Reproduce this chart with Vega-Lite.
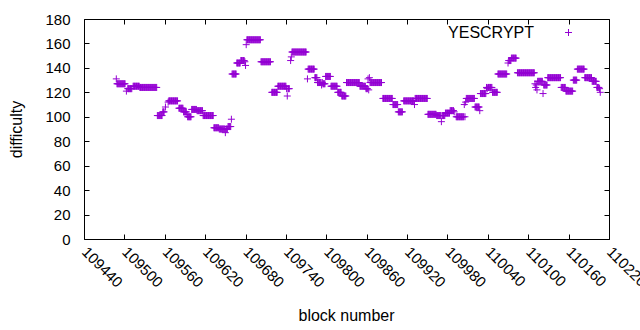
{
"$schema": "https://vega.github.io/schema/vega-lite/v6.json",
"width": 525, "height": 220,
"autosize": "none",
"padding": {"left": 84, "top": 19, "right": 31, "bottom": 91},
"background": "white",
"config": {
  "view": {"stroke": "black", "strokeWidth": 1},
  "font": "Liberation Sans",
  "axis": {"grid": false, "domain": false, "tickColor": "black", "labelColor": "black", "titleColor": "black", "labelFontSize": 15, "titleFontSize": 16, "titleFontWeight": "normal", "tickSize": -5, "labelFlush": false, "labelOverlap": false, "labelBound": false}
},
"datasets": {"pts": [
{"block":109488,"diff":131},
{"block":109489,"diff":127},{"block":109490,"diff":127},{"block":109491,"diff":127},{"block":109492,"diff":127},{"block":109493,"diff":127},{"block":109494,"diff":127},{"block":109495,"diff":127},{"block":109496,"diff":127},{"block":109497,"diff":127},{"block":109498,"diff":127},{"block":109499,"diff":127},{"block":109500,"diff":127},{"block":109501,"diff":127},
{"block":109503,"diff":121},
{"block":109505,"diff":123},{"block":109506,"diff":123},{"block":109507,"diff":123},{"block":109508,"diff":123},{"block":109509,"diff":123},{"block":109510,"diff":123},{"block":109511,"diff":123},
{"block":109513,"diff":125},{"block":109514,"diff":125},{"block":109515,"diff":125},{"block":109516,"diff":125},{"block":109517,"diff":125},{"block":109518,"diff":125},{"block":109519,"diff":125},{"block":109520,"diff":125},{"block":109521,"diff":125},{"block":109522,"diff":125},
{"block":109523,"diff":124},{"block":109524,"diff":124},{"block":109525,"diff":124},{"block":109526,"diff":124},{"block":109527,"diff":124},{"block":109528,"diff":124},{"block":109529,"diff":124},{"block":109530,"diff":124},{"block":109531,"diff":124},{"block":109532,"diff":124},{"block":109533,"diff":124},{"block":109534,"diff":124},{"block":109535,"diff":124},{"block":109536,"diff":124},{"block":109537,"diff":124},{"block":109538,"diff":124},{"block":109539,"diff":124},{"block":109540,"diff":124},{"block":109541,"diff":124},{"block":109542,"diff":124},{"block":109543,"diff":124},{"block":109544,"diff":124},{"block":109545,"diff":124},{"block":109546,"diff":124},{"block":109547,"diff":124},{"block":109548,"diff":124},
{"block":109549,"diff":101},{"block":109550,"diff":101},{"block":109551,"diff":101},{"block":109552,"diff":101},{"block":109553,"diff":101},{"block":109554,"diff":101},{"block":109555,"diff":101},{"block":109556,"diff":101},
{"block":109557,"diff":104},{"block":109558,"diff":104},{"block":109559,"diff":104},
{"block":109561,"diff":108},
{"block":109565,"diff":112},
{"block":109566,"diff":113},{"block":109567,"diff":113},{"block":109568,"diff":113},{"block":109569,"diff":113},{"block":109570,"diff":113},{"block":109571,"diff":113},{"block":109572,"diff":113},{"block":109573,"diff":113},{"block":109574,"diff":113},{"block":109575,"diff":113},{"block":109576,"diff":113},{"block":109577,"diff":113},{"block":109578,"diff":113},{"block":109579,"diff":113},
{"block":109581,"diff":107},{"block":109582,"diff":107},{"block":109583,"diff":107},{"block":109584,"diff":107},{"block":109585,"diff":107},{"block":109586,"diff":107},{"block":109587,"diff":107},
{"block":109588,"diff":104},{"block":109589,"diff":104},{"block":109590,"diff":104},{"block":109591,"diff":104},{"block":109592,"diff":104},
{"block":109593,"diff":102},
{"block":109594,"diff":100},{"block":109595,"diff":100},{"block":109596,"diff":100},{"block":109597,"diff":100},{"block":109598,"diff":100},{"block":109599,"diff":100},
{"block":109600,"diff":106},{"block":109601,"diff":106},{"block":109602,"diff":106},{"block":109603,"diff":106},{"block":109604,"diff":106},{"block":109605,"diff":106},{"block":109606,"diff":106},{"block":109607,"diff":106},
{"block":109608,"diff":105},{"block":109609,"diff":105},{"block":109610,"diff":105},{"block":109611,"diff":105},{"block":109612,"diff":105},{"block":109613,"diff":105},{"block":109614,"diff":105},{"block":109615,"diff":105},{"block":109616,"diff":105},
{"block":109617,"diff":101},{"block":109618,"diff":101},{"block":109619,"diff":101},{"block":109620,"diff":101},{"block":109621,"diff":101},{"block":109622,"diff":101},{"block":109623,"diff":101},{"block":109624,"diff":101},{"block":109625,"diff":101},{"block":109626,"diff":101},{"block":109627,"diff":101},{"block":109628,"diff":101},{"block":109629,"diff":101},{"block":109630,"diff":101},{"block":109631,"diff":101},{"block":109632,"diff":101},
{"block":109633,"diff":91},{"block":109634,"diff":91},{"block":109635,"diff":91},{"block":109636,"diff":91},{"block":109637,"diff":91},{"block":109638,"diff":91},{"block":109639,"diff":91},{"block":109640,"diff":91},
{"block":109641,"diff":90},{"block":109642,"diff":90},{"block":109643,"diff":90},{"block":109644,"diff":90},{"block":109645,"diff":90},{"block":109646,"diff":90},{"block":109647,"diff":90},{"block":109648,"diff":90},{"block":109649,"diff":90},
{"block":109650,"diff":87},
{"block":109651,"diff":90},{"block":109652,"diff":90},{"block":109653,"diff":90},
{"block":109654,"diff":92},{"block":109655,"diff":92},{"block":109656,"diff":92},{"block":109657,"diff":92},{"block":109658,"diff":92},
{"block":109659,"diff":98},
{"block":109660,"diff":135},{"block":109661,"diff":135},{"block":109662,"diff":135},{"block":109663,"diff":135},{"block":109664,"diff":135},{"block":109665,"diff":135},{"block":109666,"diff":135},
{"block":109667,"diff":144},{"block":109668,"diff":144},{"block":109669,"diff":144},{"block":109670,"diff":144},{"block":109671,"diff":144},{"block":109672,"diff":144},
{"block":109673,"diff":146},{"block":109674,"diff":146},{"block":109675,"diff":146},{"block":109676,"diff":146},{"block":109677,"diff":146},{"block":109678,"diff":146},
{"block":109679,"diff":145},
{"block":109680,"diff":142},
{"block":109681,"diff":159},
{"block":109682,"diff":163},{"block":109683,"diff":163},{"block":109684,"diff":163},{"block":109685,"diff":163},{"block":109686,"diff":163},{"block":109687,"diff":163},{"block":109688,"diff":163},{"block":109689,"diff":163},{"block":109690,"diff":163},{"block":109691,"diff":163},{"block":109692,"diff":163},{"block":109693,"diff":163},{"block":109694,"diff":163},{"block":109695,"diff":163},{"block":109696,"diff":163},{"block":109697,"diff":163},{"block":109698,"diff":163},{"block":109699,"diff":163},{"block":109700,"diff":163},{"block":109701,"diff":163},{"block":109702,"diff":163},
{"block":109703,"diff":145},{"block":109704,"diff":145},{"block":109705,"diff":145},{"block":109706,"diff":145},{"block":109707,"diff":145},{"block":109708,"diff":145},{"block":109709,"diff":145},{"block":109710,"diff":145},{"block":109711,"diff":145},{"block":109712,"diff":145},{"block":109713,"diff":145},{"block":109714,"diff":145},{"block":109715,"diff":145},{"block":109716,"diff":145},{"block":109717,"diff":145},
{"block":109719,"diff":120},{"block":109720,"diff":120},{"block":109721,"diff":120},{"block":109722,"diff":120},{"block":109723,"diff":120},{"block":109724,"diff":120},{"block":109725,"diff":120},{"block":109726,"diff":120},{"block":109727,"diff":120},
{"block":109728,"diff":125},{"block":109729,"diff":125},{"block":109730,"diff":125},{"block":109731,"diff":125},{"block":109732,"diff":125},{"block":109733,"diff":125},{"block":109734,"diff":125},{"block":109735,"diff":125},{"block":109736,"diff":125},{"block":109737,"diff":125},{"block":109738,"diff":125},{"block":109739,"diff":125},{"block":109740,"diff":125},
{"block":109741,"diff":123},{"block":109742,"diff":117},{"block":109743,"diff":123},{"block":109744,"diff":123},{"block":109745,"diff":123},
{"block":109747,"diff":146},{"block":109748,"diff":149},
{"block":109749,"diff":153},{"block":109750,"diff":153},{"block":109751,"diff":153},{"block":109752,"diff":153},{"block":109753,"diff":153},{"block":109754,"diff":153},{"block":109755,"diff":153},{"block":109756,"diff":153},{"block":109757,"diff":153},{"block":109758,"diff":153},{"block":109759,"diff":153},{"block":109760,"diff":153},{"block":109761,"diff":153},{"block":109762,"diff":153},{"block":109763,"diff":153},{"block":109764,"diff":153},{"block":109765,"diff":153},{"block":109766,"diff":153},{"block":109767,"diff":153},{"block":109768,"diff":153},{"block":109769,"diff":153},{"block":109770,"diff":153},
{"block":109772,"diff":131},
{"block":109773,"diff":139},{"block":109774,"diff":139},{"block":109775,"diff":139},{"block":109776,"diff":139},{"block":109777,"diff":139},{"block":109778,"diff":139},{"block":109779,"diff":139},{"block":109780,"diff":139},{"block":109781,"diff":139},{"block":109782,"diff":139},
{"block":109783,"diff":132},{"block":109784,"diff":132},{"block":109785,"diff":132},{"block":109786,"diff":132},
{"block":109787,"diff":128},{"block":109788,"diff":128},{"block":109789,"diff":128},{"block":109790,"diff":128},{"block":109791,"diff":128},{"block":109792,"diff":128},
{"block":109793,"diff":126},{"block":109794,"diff":128},
{"block":109795,"diff":127},{"block":109796,"diff":127},{"block":109797,"diff":127},{"block":109798,"diff":127},
{"block":109799,"diff":133},{"block":109800,"diff":133},{"block":109801,"diff":133},{"block":109802,"diff":133},{"block":109803,"diff":133},{"block":109804,"diff":133},{"block":109805,"diff":133},{"block":109806,"diff":133},
{"block":109807,"diff":125},{"block":109808,"diff":125},{"block":109809,"diff":125},{"block":109810,"diff":125},{"block":109811,"diff":125},{"block":109812,"diff":125},{"block":109813,"diff":125},{"block":109814,"diff":125},{"block":109815,"diff":125},{"block":109816,"diff":125},
{"block":109817,"diff":120},{"block":109818,"diff":120},{"block":109819,"diff":120},{"block":109820,"diff":120},{"block":109821,"diff":120},{"block":109822,"diff":120},
{"block":109823,"diff":117},{"block":109824,"diff":117},{"block":109825,"diff":117},{"block":109826,"diff":117},{"block":109827,"diff":117},{"block":109828,"diff":117},{"block":109829,"diff":117},
{"block":109830,"diff":128},{"block":109831,"diff":128},{"block":109832,"diff":128},{"block":109833,"diff":128},{"block":109834,"diff":128},{"block":109835,"diff":128},{"block":109836,"diff":128},{"block":109837,"diff":128},{"block":109838,"diff":128},{"block":109839,"diff":128},{"block":109840,"diff":128},{"block":109841,"diff":128},{"block":109842,"diff":128},{"block":109843,"diff":128},{"block":109844,"diff":128},{"block":109845,"diff":128},{"block":109846,"diff":128},{"block":109847,"diff":128},{"block":109848,"diff":128},{"block":109849,"diff":128},
{"block":109850,"diff":125},{"block":109851,"diff":125},{"block":109852,"diff":125},{"block":109853,"diff":125},{"block":109854,"diff":125},{"block":109855,"diff":125},{"block":109856,"diff":125},{"block":109857,"diff":125},{"block":109858,"diff":125},
{"block":109859,"diff":123},{"block":109860,"diff":123},{"block":109861,"diff":123},
{"block":109862,"diff":131},{"block":109863,"diff":122},{"block":109864,"diff":132},
{"block":109865,"diff":128},{"block":109866,"diff":128},{"block":109867,"diff":128},{"block":109868,"diff":128},{"block":109869,"diff":128},{"block":109870,"diff":128},{"block":109871,"diff":128},{"block":109872,"diff":128},{"block":109873,"diff":128},{"block":109874,"diff":128},{"block":109875,"diff":128},{"block":109876,"diff":128},{"block":109877,"diff":128},{"block":109878,"diff":128},{"block":109879,"diff":128},{"block":109880,"diff":128},{"block":109881,"diff":128},{"block":109882,"diff":128},
{"block":109884,"diff":115},{"block":109885,"diff":115},{"block":109886,"diff":115},{"block":109887,"diff":115},{"block":109888,"diff":115},{"block":109889,"diff":115},{"block":109890,"diff":115},{"block":109891,"diff":115},{"block":109892,"diff":115},{"block":109893,"diff":115},{"block":109894,"diff":115},{"block":109895,"diff":115},{"block":109896,"diff":115},{"block":109897,"diff":115},{"block":109898,"diff":115},
{"block":109899,"diff":110},{"block":109900,"diff":110},{"block":109901,"diff":110},{"block":109902,"diff":110},{"block":109903,"diff":110},{"block":109904,"diff":110},{"block":109905,"diff":110},{"block":109906,"diff":110},
{"block":109907,"diff":104},{"block":109908,"diff":104},{"block":109909,"diff":104},{"block":109910,"diff":104},{"block":109911,"diff":104},{"block":109912,"diff":104},{"block":109913,"diff":104},
{"block":109915,"diff":113},{"block":109916,"diff":113},{"block":109917,"diff":113},{"block":109918,"diff":113},{"block":109919,"diff":113},{"block":109920,"diff":113},{"block":109921,"diff":113},{"block":109922,"diff":113},{"block":109923,"diff":113},{"block":109924,"diff":113},{"block":109925,"diff":113},{"block":109926,"diff":113},{"block":109927,"diff":113},{"block":109928,"diff":113},{"block":109929,"diff":113},{"block":109930,"diff":113},
{"block":109931,"diff":110},
{"block":109932,"diff":115},{"block":109933,"diff":115},{"block":109934,"diff":115},{"block":109935,"diff":115},{"block":109936,"diff":115},{"block":109937,"diff":115},{"block":109938,"diff":115},{"block":109939,"diff":115},{"block":109940,"diff":115},{"block":109941,"diff":115},{"block":109942,"diff":115},{"block":109943,"diff":115},{"block":109944,"diff":115},{"block":109945,"diff":115},{"block":109946,"diff":115},{"block":109947,"diff":115},{"block":109948,"diff":115},{"block":109949,"diff":115},{"block":109950,"diff":115},
{"block":109951,"diff":102},{"block":109952,"diff":102},{"block":109953,"diff":102},{"block":109954,"diff":102},{"block":109955,"diff":102},{"block":109956,"diff":102},{"block":109957,"diff":102},{"block":109958,"diff":102},{"block":109959,"diff":102},{"block":109960,"diff":102},{"block":109961,"diff":102},{"block":109962,"diff":102},{"block":109963,"diff":102},
{"block":109964,"diff":101},{"block":109965,"diff":101},{"block":109966,"diff":101},{"block":109967,"diff":101},{"block":109968,"diff":101},{"block":109969,"diff":101},{"block":109970,"diff":101},
{"block":109971,"diff":96},
{"block":109972,"diff":101},{"block":109973,"diff":101},{"block":109974,"diff":101},{"block":109975,"diff":101},{"block":109976,"diff":101},
{"block":109977,"diff":103},{"block":109978,"diff":103},{"block":109979,"diff":103},{"block":109980,"diff":103},{"block":109981,"diff":103},{"block":109982,"diff":103},{"block":109983,"diff":103},
{"block":109984,"diff":105},{"block":109985,"diff":105},{"block":109986,"diff":105},{"block":109987,"diff":105},{"block":109988,"diff":105},{"block":109989,"diff":105},
{"block":109990,"diff":104},
{"block":109993,"diff":100},{"block":109994,"diff":100},{"block":109995,"diff":100},{"block":109996,"diff":100},{"block":109997,"diff":100},{"block":109998,"diff":100},{"block":109999,"diff":100},{"block":110000,"diff":100},{"block":110001,"diff":100},{"block":110002,"diff":100},{"block":110003,"diff":100},{"block":110004,"diff":100},
{"block":110005,"diff":110},{"block":110006,"diff":100},{"block":110007,"diff":112},
{"block":110008,"diff":115},{"block":110009,"diff":115},{"block":110010,"diff":115},{"block":110011,"diff":115},{"block":110012,"diff":115},{"block":110013,"diff":115},{"block":110014,"diff":115},{"block":110015,"diff":115},{"block":110016,"diff":115},{"block":110017,"diff":115},{"block":110018,"diff":115},{"block":110019,"diff":115},{"block":110020,"diff":115},
{"block":110021,"diff":108},{"block":110022,"diff":108},{"block":110023,"diff":108},{"block":110024,"diff":108},{"block":110025,"diff":108},{"block":110026,"diff":108},{"block":110027,"diff":108},
{"block":110028,"diff":105},
{"block":110029,"diff":119},{"block":110030,"diff":119},{"block":110031,"diff":119},{"block":110032,"diff":119},{"block":110033,"diff":119},{"block":110034,"diff":119},{"block":110035,"diff":119},{"block":110036,"diff":119},{"block":110037,"diff":119},
{"block":110038,"diff":124},{"block":110039,"diff":123},
{"block":110040,"diff":124},{"block":110041,"diff":124},{"block":110042,"diff":124},{"block":110043,"diff":124},{"block":110044,"diff":124},{"block":110045,"diff":124},{"block":110046,"diff":124},
{"block":110047,"diff":120},{"block":110048,"diff":120},{"block":110049,"diff":120},{"block":110050,"diff":120},{"block":110051,"diff":120},{"block":110052,"diff":120},{"block":110053,"diff":120},{"block":110054,"diff":120},
{"block":110055,"diff":135},{"block":110056,"diff":135},{"block":110057,"diff":135},{"block":110058,"diff":135},{"block":110059,"diff":135},{"block":110060,"diff":135},{"block":110061,"diff":135},{"block":110062,"diff":135},{"block":110063,"diff":135},{"block":110064,"diff":135},{"block":110065,"diff":135},{"block":110066,"diff":135},{"block":110067,"diff":135},{"block":110068,"diff":135},
{"block":110070,"diff":144},
{"block":110071,"diff":146},{"block":110072,"diff":146},{"block":110073,"diff":146},{"block":110074,"diff":146},
{"block":110075,"diff":148},{"block":110076,"diff":148},{"block":110077,"diff":148},{"block":110078,"diff":148},{"block":110079,"diff":148},{"block":110080,"diff":148},{"block":110081,"diff":148},{"block":110082,"diff":148},
{"block":110084,"diff":136},{"block":110085,"diff":136},{"block":110086,"diff":136},{"block":110087,"diff":136},{"block":110088,"diff":136},{"block":110089,"diff":136},{"block":110090,"diff":136},{"block":110091,"diff":136},{"block":110092,"diff":136},{"block":110093,"diff":136},{"block":110094,"diff":136},{"block":110095,"diff":136},{"block":110096,"diff":136},{"block":110097,"diff":136},{"block":110098,"diff":136},{"block":110099,"diff":136},{"block":110100,"diff":136},{"block":110101,"diff":136},{"block":110102,"diff":136},{"block":110103,"diff":136},{"block":110104,"diff":136},{"block":110105,"diff":136},{"block":110106,"diff":136},{"block":110107,"diff":136},{"block":110108,"diff":136},{"block":110109,"diff":136},
{"block":110110,"diff":127},{"block":110111,"diff":124},{"block":110112,"diff":126},{"block":110113,"diff":122},
{"block":110114,"diff":129},{"block":110115,"diff":129},{"block":110116,"diff":129},{"block":110117,"diff":129},{"block":110118,"diff":129},{"block":110119,"diff":129},{"block":110120,"diff":129},{"block":110121,"diff":129},
{"block":110122,"diff":119},
{"block":110123,"diff":126},{"block":110124,"diff":126},{"block":110125,"diff":126},{"block":110126,"diff":126},{"block":110127,"diff":126},{"block":110128,"diff":126},
{"block":110129,"diff":132},{"block":110130,"diff":132},{"block":110131,"diff":132},{"block":110132,"diff":132},{"block":110133,"diff":132},{"block":110134,"diff":132},{"block":110135,"diff":132},{"block":110136,"diff":132},{"block":110137,"diff":132},{"block":110138,"diff":132},{"block":110139,"diff":132},{"block":110140,"diff":132},{"block":110141,"diff":132},{"block":110142,"diff":132},{"block":110143,"diff":132},{"block":110144,"diff":132},{"block":110145,"diff":132},{"block":110146,"diff":132},{"block":110147,"diff":132},{"block":110148,"diff":132},
{"block":110149,"diff":124},{"block":110150,"diff":124},{"block":110151,"diff":124},{"block":110152,"diff":124},{"block":110153,"diff":124},{"block":110154,"diff":124},{"block":110155,"diff":124},
{"block":110156,"diff":121},{"block":110157,"diff":121},{"block":110158,"diff":121},{"block":110159,"diff":121},{"block":110160,"diff":121},{"block":110161,"diff":121},{"block":110162,"diff":121},{"block":110163,"diff":121},{"block":110164,"diff":121},{"block":110165,"diff":121},{"block":110166,"diff":121},
{"block":110167,"diff":130},{"block":110168,"diff":130},{"block":110169,"diff":130},{"block":110170,"diff":130},{"block":110171,"diff":130},{"block":110172,"diff":130},
{"block":110173,"diff":139},{"block":110174,"diff":139},{"block":110175,"diff":139},{"block":110176,"diff":139},{"block":110177,"diff":139},{"block":110178,"diff":139},{"block":110179,"diff":139},{"block":110180,"diff":139},{"block":110181,"diff":139},{"block":110182,"diff":139},{"block":110183,"diff":139},
{"block":110184,"diff":132},{"block":110185,"diff":132},{"block":110186,"diff":132},{"block":110187,"diff":132},{"block":110188,"diff":132},{"block":110189,"diff":132},{"block":110190,"diff":132},{"block":110191,"diff":132},{"block":110192,"diff":132},{"block":110193,"diff":132},{"block":110194,"diff":132},
{"block":110195,"diff":129},{"block":110196,"diff":129},{"block":110197,"diff":129},{"block":110198,"diff":129},{"block":110199,"diff":129},{"block":110200,"diff":129},{"block":110201,"diff":129},
{"block":110202,"diff":124},{"block":110203,"diff":124},{"block":110204,"diff":124},{"block":110205,"diff":124},
{"block":110206,"diff":123},{"block":110207,"diff":120}
]},
"layer": [
  {
    "data": {"name": "pts"},
    "mark": {"type": "point", "shape": "M-1,0H1M0,-1V1", "filled": false, "size": 49, "strokeWidth": 1, "opacity": 1},
    "encoding": {
      "x": {"field": "block", "type": "quantitative",
        "scale": {"domain": [109440, 110220], "nice": false, "zero": false},
        "axis": {"orient": "bottom", "values": [109440,109500,109560,109620,109680,109740,109800,109860,109920,109980,110040,110100,110160,110220], "format": "d", "labelAngle": 45, "labelAlign": "left", "labelBaseline": "middle", "labelPadding": 15, "title": "block number", "titleX": 262, "titleY": 76, "titleAlign": "center", "titleBaseline": "middle"}},
      "y": {"field": "diff", "type": "quantitative",
        "scale": {"domain": [0, 180], "nice": false},
        "axis": {"orient": "left", "values": [0,20,40,60,80,100,120,140,160,180], "labelPadding": 19, "title": "difficulty", "titleX": -68, "titleY": 110, "titleAngle": -90, "titleAlign": "center", "titleBaseline": "middle"}},
      "color": {"datum": "YESCRYPT", "type": "nominal", "scale": {"range": ["#9400d3"]},
        "legend": {"orient": "none", "legendX": 476.5, "legendY": 5.5, "title": null, "padding": 0, "labelFontSize": 16, "labelColor": "black", "labelAlign": "right", "labelOffset": -42.5, "symbolType": "M-1,0H1M0,-1V1", "symbolSize": 49, "symbolStrokeWidth": 1, "symbolFillColor": "transparent"}}
    }
  },
  {
    "data": {"name": "pts"},
    "mark": {"type": "point", "opacity": 0},
    "encoding": {
      "x": {"field": "block", "type": "quantitative", "scale": {"domain": [109440, 110220], "nice": false, "zero": false},
        "axis": {"orient": "top", "values": [109440,109500,109560,109620,109680,109740,109800,109860,109920,109980,110040,110100,110160,110220], "labels": false, "title": null}},
      "y": {"field": "diff", "type": "quantitative", "scale": {"domain": [0, 180], "nice": false},
        "axis": {"orient": "right", "values": [0,20,40,60,80,100,120,140,160,180], "labels": false, "title": null}}
    }
  }
],
"resolve": {"axis": {"x": "independent", "y": "independent"}}
}
